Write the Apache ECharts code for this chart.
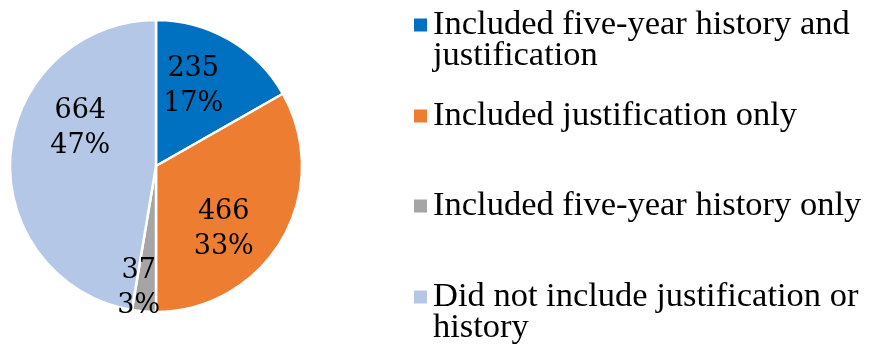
<!DOCTYPE html>
<html><head><meta charset="utf-8">
<script src="https://cdn.jsdelivr.net/npm/echarts@6/dist/echarts.min.js"></script>
<style>html,body{margin:0;padding:0;background:#fff}#c{width:869px;height:344px}</style>
</head><body><div id="c"></div>
<script>
const categories = ["Included five-year history and justification","Included justification only","Included five-year history only","Did not include justification or history"];
const values = [235, 466, 37, 664];
const colors = ["#0070C0", "#ED7D31", "#A5A5A5", "#B4C7E7"];
const labelShift = [[-1, -14], [2, 25], [-11, 47], [0, -31]];
const legendTops = [-23.5, 98.5, 188.5, 248.5];
const legendLines = [2, 1, 1, 2];

const LH = 31;
const chart = echarts.init(document.getElementById('c'), null, {renderer: 'canvas'});
const total = values.reduce((a, b) => a + b, 0);
const legends = categories.map((name, i) => ({
  data: [name], orient: 'vertical', left: 412, top: legendTops[i], padding: 0,
  itemWidth: 15, itemHeight: 15, icon: 'rect', selectedMode: false,
  formatter: n => (legendLines[i] === 2 ? '\n' : '') + n,
  textStyle: { fontFamily: 'Liberation Serif', fontSize: 34.5, color: '#000', lineHeight: LH,
    width: 440, overflow: 'break' }
}));
chart.setOption({
  animation: false,
  color: colors,
  legend: legends,
  series: [{
    type: 'pie', center: [156, 166], radius: 146, startAngle: 90, clockwise: true,
    avoidLabelOverlap: false,
    itemStyle: { borderColor: '#fff', borderWidth: 2.5 },
    label: { show: true, position: 'inside', color: '#000', fontFamily: 'DejaVu Serif', fontSize: 27, lineHeight: 35,
      formatter: p => p.value + '\n' + Math.round(p.value / total * 100) + '%' },
    labelLine: { show: false },
    labelLayout: p => ({ dx: labelShift[p.dataIndex][0], dy: labelShift[p.dataIndex][1] }),
    emphasis: { disabled: true },
    data: categories.map((n, i) => ({ name: n, value: values[i] }))
  }]
});
</script></body></html>
